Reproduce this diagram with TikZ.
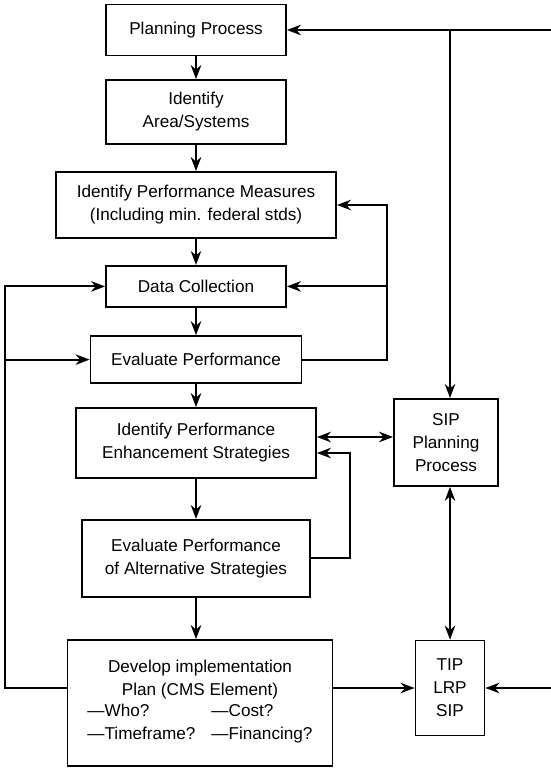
\documentclass[tikz,border=0pt]{standalone}
\usepackage{fontspec}
\setmainfont{Liberation Sans}
\usetikzlibrary{arrows.meta}
\begin{document}
\begin{tikzpicture}[box/.style={ draw, rectangle, line width=1.3pt, align=center, inner sep=0pt, font=\fontsize{12.2}{16.3}\selectfont }, >={Stealth[length=10pt,width=7.5pt]}, line width=1.3pt]
		\useasboundingbox (0,0) rectangle (13.775,-19.2);
		\node[box, minimum width=4.5cm, minimum height=1.275cm] (1) at (4.9,-0.75) {Planning Process};
		\node[box, minimum width=4.5cm, minimum height=1.6cm] (2) at (4.9,-2.8) {Identify\\Area/Systems};
		\node[box, minimum width=7cm, minimum height=1.65cm] (3) at (4.9,-5.125) {Identify Performance Measures\\(Including min. federal stds)};
		\node[box, minimum width=4.5cm, minimum height=1.025cm] (4) at (4.9,-7.16) {Data Collection};
		\node[box, minimum width=5.275cm, minimum height=1.175cm] (5) at (4.9,-8.99) {Evaluate Performance};
		\node[box, minimum width=6cm, minimum height=1.75cm] (6) at (4.9,-11.075) {Identify Performance\\Enhancement Strategies};
		\node[box, minimum width=5.7cm, minimum height=1.925cm] (7) at (4.9,-13.96) {Evaluate Performance\\of Alternative Strategies};
		\node[box, minimum width=6.625cm, minimum height=3.15cm] (8) at (5.0,-17.575) {Develop implementation\\Plan (CMS Element)\\\begin{tabular}{@{}l@{\hspace{0.4cm}}l@{}}---Who? & ---Cost?\\---Timeframe? & ---Financing?\end{tabular}};
		\node[box, minimum width=2.6cm, minimum height=2.175cm] (S) at (11.15,-11.06) {SIP\\Planning\\Process};
		\node[box, minimum width=1.725cm, minimum height=2.375cm] (T) at (11.25,-17.2) {TIP\\LRP\\SIP};
		\coordinate (R1) at (13.775,-0.75);
		\coordinate (R2) at (13.775,-17.2);
		\coordinate (L) at (0.125,-17.2);
		\coordinate (M) at (9.675,0);
		\coordinate (A) at (8.75,0);

		\draw[->] (1) -- (2);
		\draw[->] (2) -- (3);
		\draw[->] (3) -- (4);
		\draw[->] (4) -- (5);
		\draw[->] (5) -- (6);
		\draw[->] (6) -- (7);
		\draw[->] (7) -- (7 |- 8.north);

		\draw[->] (R1) -- (1);
		\draw[->] (R1 -| T) -- (T |- S.north);
		\draw[<->] (S.south -| T) -- (T);
		\draw[->] (R2) -- (T);
		\draw[->] (8.east |- T) -- (T);
		\draw[<->] ([yshift=0.15cm]6.east) -- ([yshift=0.15cm]6.east -| S.west);
		\draw[->] (7) -- (7 -| A) |- ([yshift=-0.25cm]6.east);
		\draw[->] (5) -- (5 -| M) |- (3);
		\draw[->] (M |- 4) -- (4);
		\draw[->] (8.west |- L) -- (L) |- (4);
		\draw[->] (L |- 5) -- (5);
	\end{tikzpicture}
\end{document}
